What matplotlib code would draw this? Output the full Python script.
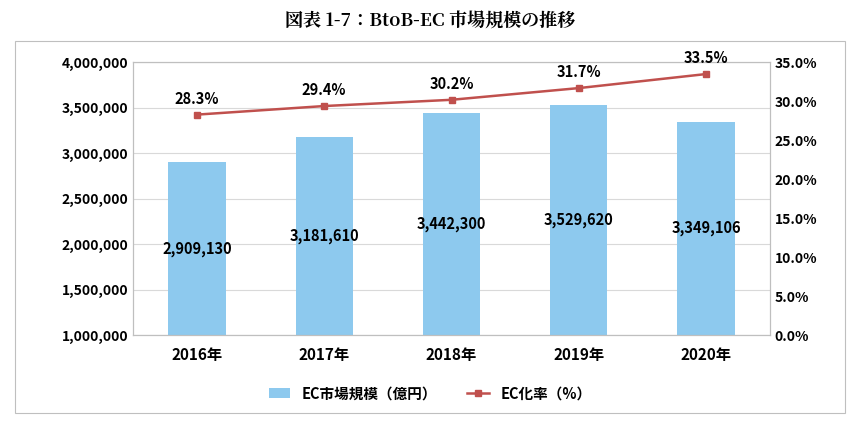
import matplotlib
matplotlib.use("Agg")
import matplotlib.pyplot as plt
from matplotlib.patches import Rectangle
from matplotlib.ticker import FuncFormatter

years = ["2016年", "2017年", "2018年", "2019年", "2020年"]
market = [2909130, 3181610, 3442300, 3529620, 3349106]
rate = [28.3, 29.4, 30.2, 31.7, 33.5]

plt.rcParams["font.family"] = "Noto Sans CJK JP"
fig = plt.figure(figsize=(8.6, 4.3), dpi=100)
fig.text(0.5, 0.95, "図表 1-7：BtoB-EC 市場規模の推移", ha="center", va="center",
         fontsize=13, fontweight="bold", family="Noto Serif CJK JP")
fig.patches.append(Rectangle((0.018, 0.04), 0.965, 0.865, transform=fig.transFigure,
                             fill=False, edgecolor="#bfbfbf", lw=0.8))
ax = fig.add_axes([0.155, 0.22, 0.74, 0.635])
x = range(len(years))
bars = ax.bar(x, [m - 1000000 for m in market], bottom=1000000, width=0.45,
              color="#8DC9EE", label="EC市場規模（億円）", zorder=2)
ax.set_ylim(1000000, 4000000)
ax.set_yticks(range(1000000, 4000001, 500000))
ax.yaxis.set_major_formatter(FuncFormatter(lambda v, p: f"{int(v):,}"))
ax.grid(axis="y", color="#d9d9d9", lw=0.8, zorder=0)
ax.set_xlim(-0.5, len(years) - 0.5)
ax.set_xticks(list(x))
ax.set_xticklabels(years)
for i, m in enumerate(market):
    ax.text(i, (m + 1000000) / 2, f"{m:,}", ha="center", va="center",
            fontsize=10.5, fontweight="bold")
ax2 = ax.twinx()
ln, = ax2.plot(list(x), rate, color="#C0504D", marker="s", markersize=4.5, lw=1.8,
               label="EC化率（%）")
ax2.set_ylim(0, 35)
ax2.set_yticks(range(0, 36, 5))
ax2.yaxis.set_major_formatter(FuncFormatter(lambda v, p: f"{v:.1f}%"))
for i, r in enumerate(rate):
    ax2.text(i, r + 1.0, f"{r}%", ha="center", va="bottom", fontsize=10.5, fontweight="bold")
for a in (ax, ax2):
    for s in a.spines.values():
        s.set_color("#bfbfbf")
    a.tick_params(length=0, labelsize=10)
    for t in a.get_yticklabels() + a.get_xticklabels():
        t.set_fontweight("bold")
ax.tick_params(axis="x", labelsize=11, pad=8)
fig.legend([bars, ln], ["EC市場規模（億円）", "EC化率（%）"], loc="center",
           bbox_to_anchor=(0.5, 0.085), ncol=2, frameon=False,
           prop={"weight": "bold", "size": 10.5}, handlelength=1.5, columnspacing=2)
fig.savefig("out.png", dpi=100)
